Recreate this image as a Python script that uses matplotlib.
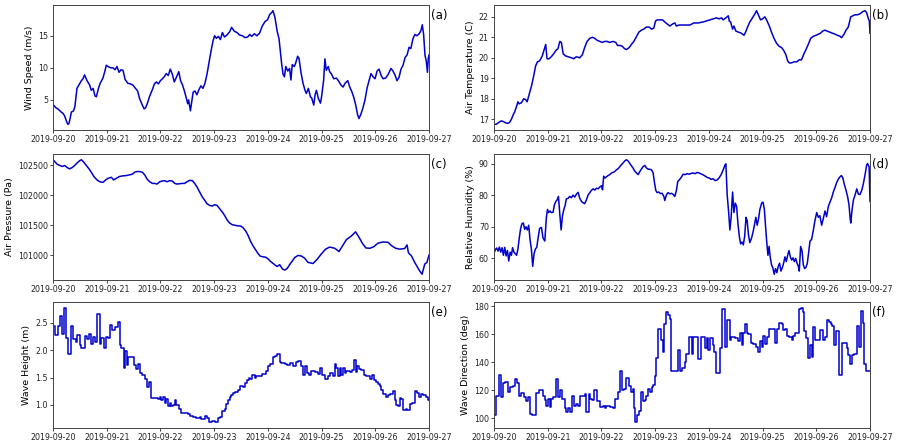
import matplotlib
matplotlib.use("Agg")
import matplotlib.pyplot as plt
import matplotlib.dates as mdates
from matplotlib.ticker import MultipleLocator, ScalarFormatter
import pandas as pd

START = "2019-09-20"
END = "2019-09-27"
tick_days = ["2019-09-20", "2019-09-21", "2019-09-22", "2019-09-23",
             "2019-09-24", "2019-09-25", "2019-09-26", "2019-09-27"]

# ---------------- (a) wind speed (hours since start, m/s) ----------------
wind_hours = [
    0.0, 1.2, 2.2, 3.7, 4.5, 5.2, 6.0, 6.6, 7.1, 7.7,
    8.2, 9.2, 9.8, 10.7, 11.9, 12.7, 13.4, 14.1, 15.2, 16.4,
    17.1, 17.9, 18.8, 19.4, 20.3, 21.1, 22.3, 23.2, 23.8, 24.6,
    25.8, 26.8, 27.7, 28.6, 29.5, 30.4, 31.3, 32.2, 33.4, 34.6,
    35.7, 36.9, 37.8, 38.7, 39.9, 40.7, 41.4, 42.3, 43.2, 44.4,
    45.3, 46.2, 47.1, 48.0, 48.9, 49.7, 50.6, 51.5, 52.4, 53.3,
    54.2, 55.1, 56.2, 57.0, 57.9, 58.8, 59.6, 60.2, 60.6, 61.4,
    62.0, 62.6, 63.4, 64.3, 65.2, 66.1, 67.0, 67.9, 68.8, 69.7,
    70.6, 71.5, 72.2, 73.0, 73.9, 74.8, 75.7, 76.6, 77.7, 78.9,
    79.8, 81.0, 82.2, 83.4, 84.6, 85.8, 87.0, 87.9, 88.8, 90.0,
    91.1, 92.3, 93.5, 94.7, 95.9, 96.8, 97.7, 98.3, 99.2, 100.1,
    101.0, 101.6, 102.2, 102.8, 103.4, 104.0, 104.9, 105.7, 106.3, 106.9,
    107.8, 108.4, 109.3, 109.9, 110.8, 111.7, 112.6, 113.2, 114.1, 115.0,
    115.6, 116.5, 117.1, 117.7, 118.6, 119.5, 120.0, 120.9, 121.5, 122.1,
    123.0, 123.6, 124.5, 125.4, 126.6, 127.5, 128.7, 129.6, 130.5, 131.7,
    132.6, 133.5, 134.3, 135.2, 136.1, 136.7, 137.6, 138.5, 139.4, 140.3,
    141.2, 142.1, 143.0, 143.9, 144.8, 145.7, 146.6, 147.5, 148.6, 149.8,
    151.0, 151.9, 152.8, 153.7, 154.6, 155.5, 156.4, 157.3, 158.2, 159.1,
    159.9, 160.8, 161.7, 162.6, 163.6, 164.4, 165.0, 165.6, 166.2, 166.8,
    167.3, 167.7, 168.0]
wind_speed = [
    4.3, 3.8, 3.6, 3.1, 2.9, 2.5, 1.7, 1.2, 1.3, 2.2,
    3.1, 3.3, 4.0, 6.8, 7.5, 8.0, 8.3, 8.9, 8.0, 7.3,
    6.5, 6.8, 5.6, 5.5, 6.8, 7.6, 8.4, 9.5, 10.4, 10.2,
    10.0, 10.0, 9.7, 10.2, 9.3, 9.7, 9.6, 8.2, 7.6, 7.5,
    7.3, 6.8, 6.4, 5.2, 4.2, 3.6, 3.8, 4.6, 5.6, 6.6,
    7.5, 7.8, 7.5, 8.0, 8.3, 8.6, 9.1, 8.8, 9.8, 9.0,
    7.8, 8.5, 9.4, 8.0, 7.3, 6.3, 5.2, 4.4, 5.0, 3.3,
    4.8, 6.2, 6.4, 5.8, 6.6, 7.2, 6.8, 7.6, 9.0, 10.8,
    12.6, 14.2, 15.0, 14.6, 14.9, 14.4, 15.5, 14.8, 15.1, 15.6,
    16.3, 15.7, 15.5, 15.1, 15.0, 14.7, 14.8, 15.2, 14.9, 15.3,
    15.0, 15.4, 16.5, 17.2, 17.5, 18.3, 18.6, 18.9, 17.8, 15.8,
    14.5, 12.5, 10.5, 9.0, 8.6, 10.2, 9.5, 9.9, 8.1, 10.5,
    10.2, 10.7, 11.8, 11.5, 9.3, 7.6, 6.5, 6.0, 6.8, 5.5,
    5.3, 4.2, 5.8, 6.5, 5.2, 4.5, 5.5, 8.0, 11.4, 9.6,
    10.2, 9.4, 9.0, 8.3, 8.4, 8.0, 7.3, 7.0, 7.6, 8.0,
    7.0, 6.3, 5.5, 4.3, 2.7, 2.1, 2.8, 3.8, 5.0, 6.8,
    8.0, 9.1, 8.6, 8.3, 9.5, 9.8, 8.8, 8.3, 8.4, 9.0,
    9.9, 9.5, 8.9, 8.0, 8.5, 9.8, 10.4, 11.6, 12.0, 13.2,
    13.0, 14.5, 15.2, 15.0, 15.3, 15.8, 16.7, 15.2, 12.0, 11.0,
    9.3, 11.5, 12.0]

# ---------------- (b) air temperature (C) ----------------
temp_hours = [
    0.0, 1.0, 2.2, 3.3, 4.3, 5.2, 6.3, 7.0, 7.8, 8.5,
    9.2, 10.0, 10.7, 11.2, 12.2, 13.3, 14.2, 14.8, 15.7, 16.7,
    17.7, 18.6, 19.4, 20.4, 21.6, 22.4, 23.1, 23.7, 24.6, 25.6,
    26.7, 27.6, 28.6, 29.4, 30.1, 30.9, 31.8, 33.1, 34.6, 35.6,
    36.8, 38.3, 39.5, 40.5, 41.6, 42.8, 44.0, 45.0, 46.1, 47.3,
    48.4, 49.5, 50.5, 51.7, 53.2, 54.4, 55.2, 56.5, 57.4, 58.3,
    59.2, 60.4, 61.4, 62.5, 63.7, 64.7, 65.9, 66.9, 68.1, 69.3,
    70.4, 71.4, 72.2, 72.9, 74.1, 75.3, 76.3, 77.4, 78.6, 79.8,
    80.8, 81.5, 82.7, 84.2, 85.7, 87.5, 89.3, 91.2, 93.5, 95.0,
    96.5, 97.9, 99.4, 100.6, 101.7, 102.4, 103.6, 104.7, 105.1, 105.7,
    106.6, 107.2, 108.1, 109.3, 110.5, 111.7, 112.6, 113.3, 114.3, 115.5,
    116.6, 117.3, 118.1, 119.1, 120.0, 121.0, 121.8, 123.0, 124.0, 125.1,
    126.3, 127.5, 128.5, 129.5, 130.4, 131.2, 131.9, 133.0, 134.0, 135.2,
    136.4, 137.4, 138.5, 139.4, 140.4, 141.5, 142.7, 143.9, 144.9, 145.9,
    146.8, 147.9, 148.9, 150.1, 151.3, 152.4, 153.4, 154.6, 155.3, 156.4,
    157.3, 158.3, 159.4, 160.3, 161.3, 162.4, 163.6, 164.7, 165.8, 166.5,
    167.3, 167.7, 168.0]
air_temp = [
    16.75, 16.75, 16.85, 16.92, 16.88, 16.82, 16.8, 16.85, 17.0, 17.2,
    17.35, 17.6, 17.85, 17.75, 17.8, 18.0, 17.95, 17.85, 18.2, 18.6,
    19.1, 19.6, 19.8, 19.85, 20.1, 20.4, 20.65, 19.95, 19.95, 20.05,
    20.2, 20.35, 20.45, 20.8, 20.75, 20.2, 20.1, 20.05, 20.0, 19.95,
    20.05, 20.0, 20.15, 20.5, 20.8, 20.95, 21.0, 20.95, 20.85, 20.8,
    20.75, 20.8, 20.8, 20.75, 20.8, 20.75, 20.6, 20.6, 20.55, 20.45,
    20.4, 20.5, 20.65, 20.8, 21.05, 21.25, 21.35, 21.4, 21.5, 21.5,
    21.4, 21.45, 21.8, 21.85, 21.85, 21.85, 21.75, 21.65, 21.55, 21.65,
    21.7, 21.55, 21.6, 21.6, 21.6, 21.6, 21.7, 21.7, 21.75, 21.8,
    21.85, 21.9, 21.95, 21.9, 21.95, 21.85, 21.95, 22.05, 21.8, 21.75,
    21.4, 21.55, 21.3, 21.25, 21.2, 21.1, 21.3, 21.5, 21.75, 21.95,
    22.15, 22.3, 22.1, 21.85, 21.9, 22.0, 21.85, 21.55, 21.25, 20.95,
    20.7, 20.55, 20.5, 20.35, 20.15, 19.85, 19.75, 19.75, 19.8, 19.8,
    19.9, 19.9, 20.2, 20.4, 20.65, 20.95, 21.05, 21.1, 21.15, 21.2,
    21.3, 21.35, 21.3, 21.25, 21.2, 21.15, 21.1, 21.05, 20.98, 21.15,
    21.35, 21.5, 22.0, 22.05, 22.1, 22.1, 22.15, 22.25, 22.3, 22.2,
    21.9, 21.8, 21.2]

# ---------------- (c) air pressure (Pa) ----------------
pres_hours = [
    0.0, 0.7, 1.8, 3.0, 4.2, 5.2, 6.3, 7.4, 8.6, 9.7,
    10.7, 11.9, 12.7, 13.7, 14.9, 16.1, 17.1, 18.3, 19.7, 20.9,
    22.3, 23.5, 24.6, 26.1, 27.1, 28.3, 29.5, 31.0, 32.5, 34.0,
    35.4, 36.5, 37.5, 38.7, 39.9, 41.0, 42.0, 43.2, 44.4, 45.4,
    46.5, 47.7, 48.9, 49.9, 50.9, 52.1, 53.3, 54.4, 55.4, 56.6,
    57.8, 58.8, 59.9, 61.1, 62.3, 63.3, 64.3, 65.5, 66.7, 67.8,
    68.8, 70.0, 71.2, 72.2, 73.3, 74.5, 75.7, 76.7, 77.7, 78.9,
    80.1, 81.3, 82.7, 83.7, 84.9, 86.1, 87.1, 88.2, 89.4, 90.6,
    91.6, 92.6, 93.8, 95.0, 96.1, 97.1, 98.0, 99.0,
    100.1, 101.3, 102.5, 103.5, 104.6, 105.7, 106.9, 108.0, 109.5, 111.0,
    112.4, 113.9, 116.2, 118.0, 119.9, 121.8, 123.6, 125.9, 127.8, 129.3,
    131.1, 133.3, 135.2, 136.7, 138.2, 139.8, 141.6, 143.3, 145.2, 147.5,
    149.7, 151.2, 153.1, 154.9, 157.1, 158.2, 158.8, 160.1, 161.6, 163.6,
    164.9, 166.1, 167.1, 168.0]
air_pressure = [
    102596, 102568, 102523, 102500, 102483, 102500, 102466, 102443, 102466, 102500,
    102540, 102580, 102596, 102557, 102500, 102443, 102387, 102313, 102257, 102228,
    102217, 102257, 102285, 102302, 102257, 102285, 102313, 102325, 102330, 102342,
    102353, 102387, 102398, 102398, 102387, 102342, 102274, 102228, 102200, 102200,
    102189, 102228, 102240, 102245, 102228, 102245, 102240, 102200, 102189, 102194,
    102200, 102200, 102228, 102251, 102245, 102200, 102143, 102058, 101974, 101917,
    101860, 101832, 101821, 101843, 101832, 101776, 101719, 101662, 101594, 101538,
    101509, 101500, 101489, 101489, 101460, 101404, 101334, 101237, 101153, 101085,
    101028, 100983, 100972, 100966, 100938, 100898, 100870, 100842,
    100810, 100840, 100770, 100750, 100775, 100840, 100900, 100960, 100995, 100985,
    100950, 100880, 100860, 100930, 101020, 101100, 101135, 101115, 101060, 101150,
    101260, 101320, 101390, 101300, 101200, 101120, 101115, 101140, 101200, 101220,
    101215, 101160, 101115, 101100, 101110, 101170, 101040, 100990, 100880, 100750,
    100680, 100850, 100880, 101000]

# ---------------- (d) relative humidity (%) ----------------
hum_hours = [
    0.0, 0.6, 1.2, 1.8, 2.4, 3.0, 3.6, 4.2, 4.8, 5.4,
    6.0, 6.6, 7.2, 7.8, 8.3, 8.9, 9.5, 10.1, 10.7, 11.3,
    11.9, 12.5, 13.1, 13.7, 14.3, 14.9, 15.5, 16.1, 16.7, 17.3,
    17.9, 18.5, 19.1, 19.7, 20.4, 21.2, 21.9, 22.7, 23.4, 23.9,
    24.4, 25.0, 25.6, 26.4, 27.0, 27.6, 28.2, 28.8, 29.4, 30.0,
    30.6, 31.2, 31.8, 32.3, 33.1, 33.8, 34.6, 35.3, 36.1, 36.8,
    37.6, 38.3, 39.1, 39.8, 40.5, 41.3, 42.0, 42.8, 43.5, 44.3,
    45.0, 45.8, 46.5, 47.3, 48.0, 48.5, 49.0, 49.6, 50.2, 51.0,
    51.7, 52.5, 53.2, 54.0, 54.7, 55.5, 56.2, 56.9, 57.7, 58.4,
    59.2, 59.9, 60.7, 61.4, 62.2, 62.9, 63.7, 64.4, 65.1, 65.9,
    66.6, 67.4, 68.1, 68.9, 69.6, 70.4, 71.1, 71.7, 72.3, 72.9,
    73.6, 74.4, 75.1, 75.9, 76.3, 77.1, 77.8, 78.6, 79.3, 80.1,
    80.8, 81.5, 82.1, 83.0, 83.8, 84.5, 85.4, 86.3, 87.2, 88.1,
    89.0, 89.9, 90.8, 91.7, 92.6, 93.5, 94.4, 95.3, 96.2, 97.0,
    97.9, 98.8, 99.7, 100.6, 101.5, 102.4, 103.2, 103.6, 104.2, 104.8,
    105.4, 106.0, 106.6, 107.2, 107.8, 108.4, 109.0, 109.6, 110.2, 110.8,
    111.4, 112.0, 112.6, 113.1, 113.7, 114.3, 115.1, 115.8, 116.6, 117.0,
    117.6, 118.2, 118.8, 119.6, 120.2, 120.8, 121.4, 122.0, 122.4, 122.9,
    123.4, 124.0, 124.6, 125.2, 125.8, 126.4, 127.0, 127.6, 128.2, 128.8,
    129.4, 130.0, 130.6, 131.2, 131.8, 132.4, 133.0, 133.6, 134.2, 134.8,
    135.4, 136.0, 136.4, 137.0, 137.6, 138.2, 138.8, 139.4, 140.0, 140.6,
    141.2, 141.9, 142.7, 143.4, 144.2, 144.9, 145.6, 146.4, 147.1, 147.9,
    148.6, 149.4, 150.1, 150.9, 151.6, 152.4, 153.1, 153.8, 154.6, 155.2,
    155.8, 156.5, 157.3, 158.0, 158.6, 159.1, 159.4, 160.0, 160.6, 161.3,
    162.1, 162.8, 163.5, 164.3, 165.0, 165.8, 166.5, 166.9, 167.6, 168.0]
humidity = [
    61.6, 62.8, 63.3, 62.3, 63.6, 62.0, 63.4, 61.0, 63.5, 60.8,
    62.5, 59.2, 62.0, 61.0, 63.4, 62.0, 61.5, 61.0, 63.0, 66.5,
    69.5, 71.0, 71.2, 69.2, 70.0, 69.0, 70.5, 66.0, 63.0, 57.5,
    61.5, 63.0, 63.5, 66.5, 69.5, 69.8, 66.5, 65.5, 73.0, 75.5,
    74.5, 75.0, 74.5, 74.6, 77.0, 78.0, 78.5, 79.6, 74.0, 69.0,
    73.5, 75.5, 76.8, 78.8, 79.0, 79.6, 79.2, 80.0, 79.4, 80.3,
    80.9, 79.0, 78.0, 77.6, 77.3, 78.5, 80.0, 80.8, 81.5, 82.0,
    81.6, 82.2, 82.0, 82.6, 83.0, 81.7, 86.0, 85.4, 85.8, 86.2,
    86.5, 87.0, 87.2, 87.5, 88.0, 88.4, 89.0, 89.6, 90.2, 90.8,
    91.2, 90.8, 90.0, 89.3, 88.5, 87.6, 87.0, 86.5, 87.4, 88.3,
    89.0, 89.4, 88.6, 88.2, 88.2, 88.0, 87.0, 84.0, 81.5, 80.8,
    81.0, 80.5, 80.6, 79.6, 78.3, 80.2, 80.8, 80.4, 80.6, 80.2,
    79.6, 81.5, 84.3, 85.0, 85.8, 86.6, 86.5, 86.8, 86.6, 86.9,
    87.0, 86.8, 87.2, 87.0, 86.7, 86.4, 86.0, 85.6, 85.4, 85.0,
    85.2, 84.6, 84.8, 85.5, 86.5, 88.0, 89.5, 89.9, 80.0, 75.0,
    69.0, 73.5, 81.0, 74.5, 77.5, 76.5, 71.0, 67.0, 64.6, 65.2,
    64.3, 67.0, 73.0, 72.0, 67.5, 65.0, 66.5, 68.5, 71.5, 73.0,
    70.5, 72.5, 75.5, 77.5, 77.8, 75.5, 69.5, 64.0, 61.0, 63.8,
    60.5, 58.0, 57.0, 55.0, 56.8, 55.5, 57.5, 58.5, 56.0, 57.0,
    58.5, 60.5, 59.0, 61.0, 62.5, 60.5, 59.5, 60.2, 59.0, 60.0,
    58.5, 57.5, 56.0, 63.8, 62.5, 58.0, 56.8, 57.2, 58.5, 62.0,
    65.5, 66.0, 69.0, 72.0, 74.5, 73.0, 73.5, 70.5, 72.5, 75.0,
    73.2, 76.5, 77.8, 79.2, 81.0, 82.5, 84.0, 85.0, 85.8, 86.2,
    85.6, 83.5, 81.5, 79.5, 77.0, 73.0, 71.2, 75.5, 78.5, 80.0,
    82.0, 80.3, 80.2, 81.5, 83.5, 86.5, 89.5, 90.0, 89.0, 78.0]

# ---------------- (e) wave height (m), step starts ----------------
wave_h_hours = [
    0.0, 1.0, 2.2, 3.0, 4.0, 4.9, 6.0, 6.7, 7.9, 8.9,
    10.1, 10.7, 11.9, 12.7, 14.1, 15.2, 16.1, 17.1, 17.9, 18.6,
    19.7, 20.9, 21.6, 22.6, 23.5, 24.6, 25.6, 26.5, 27.6, 29.0,
    29.8, 30.5, 31.6, 32.3, 33.1, 33.5, 36.0, 36.9, 38.0, 38.7,
    39.9, 41.0, 42.0, 42.9, 43.9, 46.2, 46.9, 47.7, 48.4, 49.2,
    49.9, 50.6, 51.4, 52.1, 52.9, 53.6, 54.4, 55.1, 56.3, 57.3,
    60.3, 61.1, 62.6, 64.0, 65.5, 66.3, 67.8, 68.8, 69.7, 71.2,
    72.2, 73.7, 74.8, 75.7, 76.7, 77.4, 78.2, 78.9, 79.7, 80.4,
    81.2, 82.7, 83.4, 84.9, 85.6, 86.7, 87.6, 88.2, 89.1, 90.1,
    90.9, 92.0, 93.5, 94.6, 95.3, 96.1, 97.1, 98.3, 99.0, 100.1,
    101.3, 102.0, 103.5, 104.6, 105.7, 107.2, 108.7, 109.5, 111.0, 111.7,
    112.5, 113.5, 114.2, 115.4, 116.9, 118.4, 119.4, 120.3, 121.4, 122.9,
    123.9, 125.1, 125.9, 126.6, 127.3, 128.1, 128.8, 129.6, 130.3, 131.1,
    132.6, 133.7, 134.3, 135.2, 135.8, 136.7, 137.8, 138.8, 140.0, 141.8,
    142.7, 143.3, 144.2, 145.2, 146.0, 146.7, 147.5, 148.6, 149.7, 150.7,
    151.9, 152.7, 153.4, 154.2, 154.9, 155.6, 156.4, 157.6, 158.2, 159.4,
    160.6, 161.6, 162.7, 163.6, 164.5, 165.4, 166.6, 167.6, 168.0]
wave_height = [
    2.45, 2.28, 2.45, 2.62, 2.30, 2.78, 2.22, 1.93, 2.45, 2.20,
    2.15, 2.28, 2.10, 2.05, 2.27, 2.20, 2.29, 2.12, 2.25, 2.15,
    2.67, 2.12, 2.22, 2.05, 2.25, 2.22, 2.47, 2.38, 2.42, 2.51,
    2.10, 2.05, 1.68, 1.98, 1.73, 1.87, 1.73, 1.65, 1.75, 1.58,
    1.55, 1.48, 1.32, 1.42, 1.12, 1.13, 1.10, 1.14, 1.08, 1.14,
    1.03, 1.10, 0.98, 1.03, 0.98, 1.00, 1.08, 1.00, 0.93, 0.85,
    0.83, 0.80, 0.78, 0.75, 0.77, 0.74, 0.80, 0.75, 0.68, 0.70,
    0.68, 0.75, 0.78, 0.88, 0.93, 1.02, 1.08, 1.14, 1.18, 1.22,
    1.23, 1.28, 1.35, 1.32, 1.40, 1.45, 1.50, 1.47, 1.55, 1.50,
    1.53, 1.52, 1.57, 1.56, 1.62, 1.72, 1.75, 1.88, 1.90, 1.94,
    1.78, 1.76, 1.75, 1.73, 1.77, 1.72, 1.78, 1.80, 1.72, 1.55,
    1.72, 1.58, 1.55, 1.62, 1.60, 1.57, 1.68, 1.55, 1.48, 1.52,
    1.58, 1.52, 1.75, 1.68, 1.52, 1.68, 1.55, 1.67, 1.58, 1.62,
    1.60, 1.63, 1.82, 1.60, 1.72, 1.65, 1.63, 1.55, 1.53, 1.48,
    1.55, 1.45, 1.42, 1.38, 1.35, 1.28, 1.20, 1.14, 1.18, 1.20,
    1.25, 1.08, 1.00, 0.98, 1.12, 1.10, 0.90, 0.92, 0.90, 1.02,
    1.03, 1.25, 1.22, 1.15, 1.20, 1.18, 1.15, 1.08, 1.08]

# ---------------- (f) wave direction (deg), step starts ----------------
wave_d_hours = [
    0.0, 1.0, 2.1, 3.0, 4.0, 5.1, 6.3, 7.3, 8.5, 9.2,
    10.3, 11.2, 12.2, 13.3, 14.2, 15.2, 16.0, 17.0, 18.9, 20.0,
    21.9, 22.7, 23.4, 24.2, 24.9, 25.6, 26.4, 27.6, 28.6, 29.4,
    30.6, 31.6, 32.3, 33.1, 34.1, 35.0, 35.8, 36.5, 37.6, 38.6,
    40.5, 41.3, 42.3, 43.1, 43.8, 44.6, 45.8, 47.3, 48.8, 49.5,
    50.2, 52.0, 53.2, 54.0, 55.2, 56.2, 57.2, 58.0, 59.2, 60.4,
    61.1, 61.9, 62.6, 63.2, 64.1, 64.8, 65.9, 66.6, 67.4, 68.1,
    68.9, 69.9, 70.7, 71.1, 71.9, 72.6, 73.3, 74.4, 75.3, 76.0,
    76.8, 77.8, 78.6, 79.3, 82.3, 83.0, 84.2, 85.3, 86.0, 87.1,
    88.3, 89.0, 91.2, 92.3, 94.2, 95.0, 95.7, 96.5, 97.7, 98.4,
    99.4, 101.2, 101.9, 103.2, 104.2, 105.4, 106.1, 107.6, 109.1, 109.9,
    110.6, 111.4, 112.1, 112.9, 113.6, 114.8, 115.8, 117.0, 118.1, 118.8,
    119.6, 120.3, 121.0, 122.1, 123.0, 125.5, 126.3, 127.5, 128.5, 129.3,
    130.0, 130.8, 132.0, 133.0, 133.7, 134.5, 136.4, 137.0, 137.9, 138.5,
    139.4, 140.4, 141.2, 141.9, 142.6, 143.4, 145.6, 146.8, 147.9, 148.6,
    149.7, 150.4, 151.2, 151.9, 152.7, 154.1, 155.3, 157.6, 158.3, 159.1,
    160.1, 160.8, 162.1, 163.1, 163.8, 164.7, 165.5, 166.2, 168.0]
wave_dir = [
    102, 116, 131, 115, 125, 126, 119, 122, 123, 128,
    125, 116, 118, 115, 112, 115, 103, 102, 118, 120,
    116, 113, 109, 114, 108, 114, 115, 128, 115, 120,
    114, 107, 104, 107, 104, 116, 109, 110, 109, 116,
    117, 104, 117, 114, 113, 120, 112, 108, 109, 107,
    109, 108, 107, 114, 119, 134, 120, 121, 129, 123,
    119, 121, 107, 97, 102, 105, 119, 112, 113, 116,
    121, 119, 122, 124, 130, 143, 164, 156, 147, 167,
    176, 174, 171, 134, 149, 134, 136, 140, 146, 158,
    146, 158, 142, 158, 150, 157, 149, 157, 152, 147,
    132, 150, 178, 151, 170, 156, 158, 157, 155, 161,
    152, 161, 167, 161, 160, 154, 153, 151, 147, 155,
    151, 159, 153, 158, 164, 154, 164, 168, 167, 163,
    164, 159, 158, 156, 159, 161, 178, 179, 176, 162,
    157, 143, 152, 144, 165, 156, 163, 156, 158, 170,
    169, 167, 166, 152, 162, 131, 154, 150, 145, 139,
    145, 146, 166, 151, 177, 168, 139, 134, 134]


def to_time(hours):
    return pd.Timestamp(START) + pd.to_timedelta(hours, unit="h")


LINE_COLOR = "#0000cd"
TICK_FS = 5.7
LABEL_FS = 6.8
PANEL_FS = 8.5

fig = plt.figure(figsize=(8.99, 4.47), dpi=100)
W, H = 899.0, 447.0
cols = [53, 494]
rows = [(5, 130), (154, 280), (302, 428)]
axw = 376


def make_ax(r, c):
    top, bot = rows[r]
    return fig.add_axes([cols[c] / W, 1 - bot / H, axw / W, (bot - top) / H])


panels = [
    (0, 0, "line", wind_hours, wind_speed, "Wind Speed (m/s)", "(a)", 5),
    (0, 1, "line", temp_hours, air_temp, "Air Temperature (C)", "(b)", 1),
    (1, 0, "line", pres_hours, air_pressure, "Air Pressure (Pa)", "(c)", 500),
    (1, 1, "line", hum_hours, humidity, "Relative Humidity (%)", "(d)", 10),
    (2, 0, "step", wave_h_hours, wave_height, "Wave Height (m)", "(e)", 0.5),
    (2, 1, "step", wave_d_hours, wave_dir, "Wave Direction (deg)", "(f)", 20),
]

for r, c, kind, hrs, vals, ylabel, tag, major in panels:
    ax = make_ax(r, c)
    t = to_time(hrs)
    if kind == "line":
        ax.plot(t, vals, color=LINE_COLOR, lw=1.1)
    else:
        ax.step(t, vals, where="post", color=LINE_COLOR, lw=1.1)
    ax.set_xlim(pd.Timestamp(START), pd.Timestamp(END))
    ax.xaxis.set_major_locator(mdates.DayLocator())
    ax.xaxis.set_major_formatter(mdates.DateFormatter("%Y-%m-%d"))
    ax.yaxis.set_major_locator(MultipleLocator(major))
    fmt = ScalarFormatter(useOffset=False)
    ax.yaxis.set_major_formatter(fmt)
    if tag == "(e)":
        ax.yaxis.set_major_formatter(plt.FormatStrFormatter("%.1f"))
    ax.tick_params(labelsize=TICK_FS, length=2.2, width=0.6, pad=1.5,
                   colors="#222222")
    ax.set_ylabel(ylabel, fontsize=LABEL_FS, labelpad=3)
    for s in ax.spines.values():
        s.set_linewidth(0.7)
        s.set_color("#444444")
    ax.text(1.006, 0.92, tag, transform=ax.transAxes, fontsize=PANEL_FS,
            ha="left", va="center")

fig.savefig("out.png", dpi=100)
